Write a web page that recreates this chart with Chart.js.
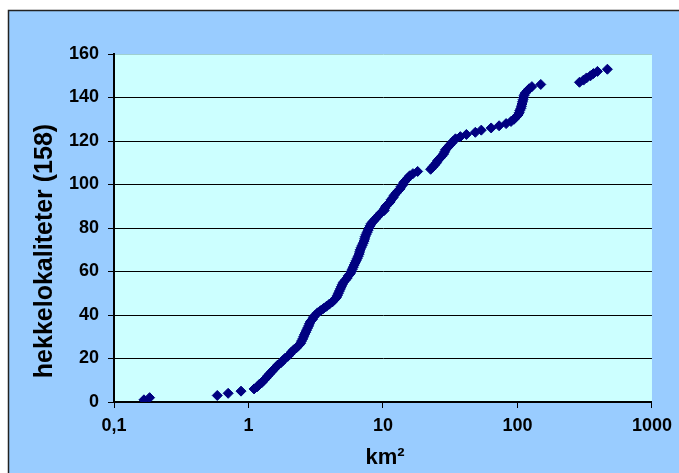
<!DOCTYPE html>
<html>
<head>
<meta charset="utf-8">
<script src="https://cdn.jsdelivr.net/npm/chart.js@4/dist/chart.umd.min.js"></script>
<style>
  body { margin: 0; background: #fff; }
  #wrap { width: 679px; height: 473px; }
</style>
</head>
<body>
<div id="wrap"><canvas id="scatterChart"></canvas></div>
<script>
// area of each site (km2), sorted, and its cumulative rank
const areaKm2 = [
  0.167, 0.184, 0.586, 0.706, 0.880, 1.10, 1.16, 1.20, 1.26, 1.30,
  1.35, 1.39, 1.44, 1.49, 1.54, 1.60, 1.65, 1.74, 1.80, 1.86,
  1.96, 2.03, 2.09, 2.17, 2.28, 2.36, 2.44, 2.48, 2.53, 2.57,
  2.61, 2.66, 2.70, 2.75, 2.80, 2.84, 2.89, 2.99, 3.04, 3.15,
  3.26, 3.43, 3.61, 3.80, 3.99, 4.20, 4.35, 4.50, 4.58, 4.66,
  4.74, 4.82, 4.90, 4.98, 5.07, 5.24, 5.42, 5.52, 5.71, 5.81,
  5.91, 6.01, 6.11, 6.21, 6.32, 6.43, 6.54, 6.65, 6.70, 6.77,
  6.88, 7.00, 7.12, 7.24, 7.30, 7.37, 7.49, 7.62, 7.75, 7.88,
  8.02, 8.16, 8.44, 8.73, 9.03, 9.34, 9.67, 10.2, 10.3, 10.5,
  10.9, 11.3, 11.5, 11.9, 12.1, 12.5, 12.9, 13.4, 13.6, 14.1,
  14.3, 14.8, 15.3, 15.8, 16.7, 18.1, 22.6, 23.4, 24.2, 25.0,
  25.5, 26.4, 27.3, 28.2, 28.7, 29.2, 30.2, 31.2, 32.3, 33.4,
  34.6, 37.6, 41.7, 48.6, 53.8, 63.7, 73.0, 82.3, 89.5, 94.2,
  97.5, 101, 103, 104, 106, 107, 108, 109, 110, 111,
  112, 114, 118, 122, 128, 149, 289, 310, 326, 349,
  367, 393, 466
];
const siteRank = [
  1, 2, 3, 4, 5, 6, 7, 8, 9, 10,
  11, 12, 13, 14, 15, 16, 17, 18, 19, 20,
  21, 22, 23, 24, 25, 26, 27, 28, 29, 30,
  31, 32, 33, 34, 35, 36, 37, 38, 39, 40,
  41, 42, 43, 44, 45, 46, 47, 48, 49, 50,
  51, 52, 53, 54, 55, 56, 57, 58, 59, 60,
  61, 62, 63, 64, 65, 66, 67, 68, 69, 70,
  71, 72, 73, 74, 75, 76, 77, 78, 79, 80,
  81, 82, 83, 84, 85, 86, 87, 88, 89, 90,
  91, 92, 93, 94, 95, 96, 97, 98, 99, 100,
  101, 102, 103, 104, 105, 106, 107, 108, 109, 110,
  111, 112, 113, 114, 115, 116, 117, 118, 119, 120,
  121, 122, 123, 124, 125, 126, 127, 128, 129, 130,
  131, 132, 133, 134, 135, 136, 137, 138, 139, 140,
  141, 142, 143, 144, 145, 146, 147, 148, 149, 150,
  151, 152, 153
];
const xTicks = [0.1, 1, 10, 100, 1000];
const yTitle = 'hekkelokaliteter (158)';
const xTitle = 'km²';

const points = areaKm2.map((a, i) => ({ x: a, y: siteRank[i] }));
const tickFont = { family: 'Liberation Sans', size: 18, weight: 'bold' };

// backgrounds, frame and axis titles
const framePlugin = {
    id: 'frame',
    beforeDraw(chart) {
        const { ctx, chartArea: a, width, height } = chart;
        ctx.save();
        ctx.fillStyle = '#ffffff';
        ctx.fillRect(0, 0, width, height);
        ctx.fillStyle = '#99ccff';
        ctx.fillRect(8, 10, width, height);
        ctx.strokeStyle = '#222';
        ctx.lineWidth = 1.5;
        ctx.strokeRect(8.5, 10.5, width + 20, height + 20);
        ctx.fillStyle = '#ccffff';
        ctx.fillRect(a.left, a.top, a.right - a.left, a.bottom - a.top);
        ctx.restore();
    },
    afterDraw(chart) {
        const ctx = chart.ctx;
        ctx.save();
        ctx.fillStyle = '#000';
        ctx.textAlign = 'center';
        ctx.textBaseline = 'middle';
        ctx.font = 'bold 25px "Liberation Sans"';
        ctx.translate(45, 251);
        ctx.rotate(-Math.PI / 2);
        ctx.fillText(yTitle, 0, 0);
        ctx.restore();
        ctx.save();
        ctx.fillStyle = '#000';
        ctx.textAlign = 'center';
        ctx.textBaseline = 'middle';
        ctx.font = 'bold 22px "Liberation Sans"';
        ctx.fillText(xTitle, 385, 458);
        ctx.restore();
    }
};

const scatterctx = document.getElementById('scatterChart').getContext('2d');
const myScatterChart = new Chart(scatterctx, {
    type: 'scatter',
    data: {
        datasets: [{
            data: points,
            pointStyle: 'rectRot',
            pointRadius: 5,
            pointHoverRadius: 5,
            backgroundColor: '#000080',
            borderColor: '#000080',
            borderWidth: 1
        }]
    },
    options: {
        responsive: true,
        maintainAspectRatio: false,
        animation: false,
        events: [],
        layout: { padding: { left: 0, top: 54, right: 23, bottom: 0 } },
        plugins: { legend: { display: false }, tooltip: { enabled: false } },
        scales: {
            x: {
                type: 'logarithmic',
                min: 0.1,
                max: 1000,
                afterBuildTicks: (scale) => { scale.ticks = xTicks.map(v => ({ value: v })); },
                afterFit: (scale) => { scale.height = 71; },
                ticks: {
                    color: '#000',
                    font: tickFont,
                    padding: 7,
                    maxRotation: 0,
                    autoSkip: false,
                    callback: (v) => String(v).replace('.', ',')
                },
                grid: { drawOnChartArea: false, color: '#000', tickColor: '#000', tickLength: 6 },
                border: { color: '#000', width: 2 }
            },
            y: {
                min: 0,
                max: 160,
                afterFit: (scale) => { scale.width = 114; },
                ticks: { stepSize: 20, color: '#000', font: tickFont, padding: 9 },
                grid: {
                    color: (c) => c.tick && c.tick.value === 160 ? '#9fcfcf' : '#000',
                    tickColor: '#000',
                    tickLength: 6,
                    lineWidth: 1
                },
                border: { color: '#000', width: 2 }
            }
        }
    },
    plugins: [framePlugin]
});
</script>
</body>
</html>
